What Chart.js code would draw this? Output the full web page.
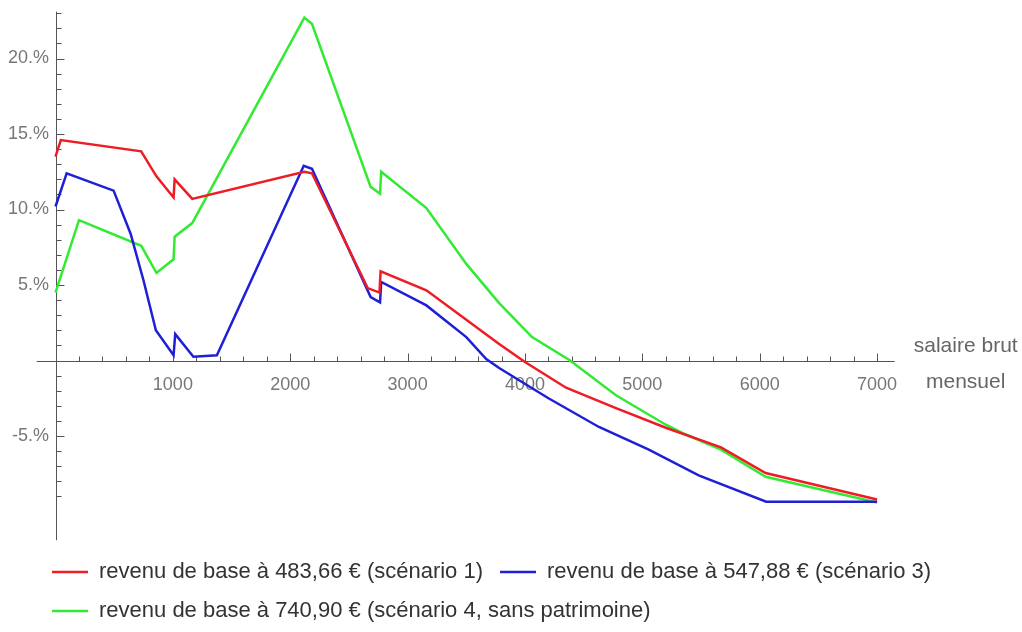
<!DOCTYPE html>
<html>
<head>
<meta charset="utf-8">
<script src="https://cdn.jsdelivr.net/npm/chart.js@4.4.1/dist/chart.umd.min.js"></script>
<style>
  html, body { margin: 0; padding: 0; background: #fff; }
  #wrap { width: 1022px; height: 632px; position: relative; }
</style>
</head>
<body>
<div id="wrap"><canvas id="gainChart"></canvas></div>
<script>
// salaire brut mensuel (€) and relative gain (%) for each scenario
var salaire1 = [0, 45, 730, 860, 1006, 1015, 1165, 2120, 2185, 2660, 2760, 2770, 3160, 3500, 3780, 4000, 4350, 4775, 5200, 5670, 6050, 7000];
var gain1 = [13.5, 14.6, 13.85, 12.2, 10.8, 12.0, 10.7, 12.5, 12.4, 4.8, 4.5, 5.9, 4.65, 2.7, 1.1, -0.1, -1.8, -3.15, -4.45, -5.75, -7.45, -9.2];

var salaire3 = [0, 95, 495, 640, 750, 855, 1006, 1020, 1175, 1375, 2115, 2185, 2685, 2765, 2775, 3160, 3500, 3670, 3780, 4200, 4630, 5055, 5480, 6055, 7000];
var gain3 = [10.2, 12.4, 11.25, 8.4, 5.3, 2.0, 0.35, 1.75, 0.25, 0.35, 12.9, 12.7, 4.2, 3.85, 5.2, 3.65, 1.55, 0.1, -0.5, -2.5, -4.4, -5.9, -7.6, -9.35, -9.35];

var salaire4 = [0, 200, 730, 860, 1006, 1015, 1165, 2120, 2185, 2685, 2765, 2775, 3160, 3500, 3780, 4060, 4375, 4775, 5200, 5370, 5670, 6050, 7000];
var gain4 = [4.5, 9.3, 7.6, 5.8, 6.7, 8.2, 9.1, 22.7, 22.3, 11.5, 11.05, 12.5, 10.1, 6.4, 3.8, 1.55, 0.05, -2.3, -4.25, -4.9, -5.9, -7.7, -9.4];

var seriesNames = [
    "revenu de base à 483,66 € (scénario 1)",
    "revenu de base à 547,88 € (scénario 3)",
    "revenu de base à 740,90 € (scénario 4, sans patrimoine)"
];
var seriesColors = ["#ee1c24", "#1f1fd6", "#33ea33"];

var xTickLabels = [1000, 2000, 3000, 4000, 5000, 6000, 7000];
var yTickLabels = [-5, 5, 10, 15, 20];
var axisTitle = ["salaire brut", "mensuel"];

var fontFamily = "'Liberation Sans', Arial, Helvetica, sans-serif";

function pairs(xs, ys) {
    return xs.map(function (x, i) { return {x: x, y: ys[i]}; });
}

function resetPadding(scale) {
    scale.paddingTop = 0;
    scale.paddingBottom = 0;
    scale.paddingLeft = 0;
    scale.paddingRight = 0;
}

// Mathematica-like axes crossing at the origin, ticks on the inner side
var crossedAxes = {
    id: 'crossedAxes',
    beforeDatasetsDraw: function (chart) {
        var ctx = chart.ctx;
        var xs = chart.scales.x, ys = chart.scales.y;
        var x0 = Math.round(xs.getPixelForValue(0)) + 0.5;
        var y0 = Math.round(ys.getPixelForValue(0)) + 0.5;
        ctx.save();
        ctx.strokeStyle = '#555';
        ctx.lineWidth = 1;
        ctx.beginPath();
        ctx.moveTo(xs.getPixelForValue(-160), y0);
        ctx.lineTo(xs.getPixelForValue(7150), y0);
        ctx.moveTo(x0, ys.getPixelForValue(23.1));
        ctx.lineTo(x0, ys.getPixelForValue(-11.9));
        for (var v = 200; v <= 7000; v += 200) {
            var px = Math.round(xs.getPixelForValue(v)) + 0.5;
            ctx.moveTo(px, y0);
            ctx.lineTo(px, y0 - (v % 1000 === 0 ? 8 : 5));
        }
        for (var p = -9; p <= 23; p++) {
            if (p === 0) continue;
            var py = Math.round(ys.getPixelForValue(p)) + 0.5;
            ctx.moveTo(x0, py);
            ctx.lineTo(x0 + (p % 5 === 0 ? 8 : 5), py);
        }
        ctx.stroke();
        ctx.restore();
    },
    afterDraw: function (chart) {
        var ctx = chart.ctx;
        var xs = chart.scales.x, ys = chart.scales.y;
        var cx = xs.getPixelForValue(7150) + 71;
        var y0 = ys.getPixelForValue(0);
        ctx.save();
        ctx.fillStyle = '#666';
        ctx.font = "21px " + fontFamily;
        ctx.textAlign = 'center';
        ctx.textBaseline = 'middle';
        ctx.fillText(axisTitle[0], cx, y0 - 14);
        ctx.fillText(axisTitle[1], cx, y0 + 22);
        ctx.restore();
    }
};

var ctx = document.getElementById("gainChart").getContext('2d');

var gainChart = new Chart(ctx, {
    type: 'line',
    data: {
        datasets: [{
            label: seriesNames[0],
            data: pairs(salaire1, gain1),
            borderColor: seriesColors[0],
            backgroundColor: seriesColors[0]
        }, {
            label: seriesNames[1],
            data: pairs(salaire3, gain3),
            borderColor: seriesColors[1],
            backgroundColor: seriesColors[1]
        }, {
            label: seriesNames[2],
            data: pairs(salaire4, gain4),
            borderColor: seriesColors[2],
            backgroundColor: seriesColors[2]
        }]
    },
    options: {
        responsive: true,
        maintainAspectRatio: false,
        animation: false,
        elements: {
            line: { borderWidth: 2.5, tension: 0 },
            point: { radius: 0, borderWidth: 2.5 }
        },
        layout: { padding: { left: 35, right: 0, top: 12, bottom: 0 } },
        scales: {
            x: {
                type: 'linear',
                min: -174.7,
                max: 8234.6,
                position: { y: 0 },
                grid: { display: false, drawTicks: false },
                border: { display: false },
                ticks: {
                    padding: 14,
                    color: '#777',
                    font: { family: fontFamily, size: 18 },
                    callback: function (v) { return String(v); }
                },
                afterBuildTicks: function (scale) {
                    scale.ticks = xTickLabels.map(function (v) { return {value: v}; });
                },
                afterFit: resetPadding
            },
            y: {
                type: 'linear',
                min: -12.15,
                max: 23.08,
                position: { x: -55 },
                grid: { display: false, drawTicks: false },
                border: { display: false },
                ticks: {
                    color: '#777',
                    font: { family: fontFamily, size: 18 },
                    callback: function (v) { return v + '.%'; }
                },
                afterBuildTicks: function (scale) {
                    scale.ticks = yTickLabels.map(function (v) { return {value: v}; });
                },
                afterFit: resetPadding
            }
        },
        plugins: {
            legend: {
                position: 'bottom',
                align: 'start',
                labels: {
                    usePointStyle: true,
                    pointStyle: 'line',
                    pointStyleWidth: 36,
                    padding: 17,
                    color: '#333',
                    font: { family: fontFamily, size: 22 }
                }
            },
            tooltip: { enabled: false }
        }
    },
    plugins: [crossedAxes]
});
</script>
</body>
</html>
